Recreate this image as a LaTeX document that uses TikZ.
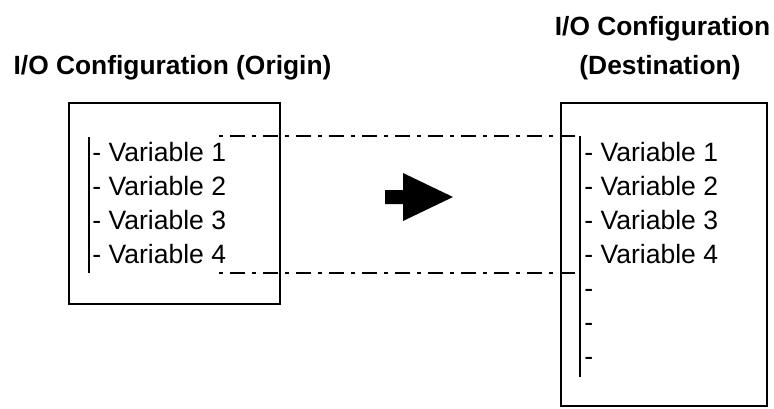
\documentclass[tikz,border=0pt]{standalone}
\usepackage{fontspec}
\setmainfont{Liberation Sans}

\begin{document}
\begin{tikzpicture}[line join=miter,
    frame/.style={line width=1.15pt},
    listbar/.style={line width=1.25pt},
    linkline/.style={line width=1.15pt,dash pattern=on 0.08cm off 0.14cm on 0.30cm off 0.14cm},
    title/.style={inner sep=0pt,anchor=base,font=\fontsize{15pt}{18pt}\selectfont\bfseries},
    item/.style={inner sep=0pt,anchor=base west,font=\fontsize{15.1pt}{17pt}\selectfont}]
  \useasboundingbox (0,0) rectangle (15.48,8.16);
  % titles
  \node[title] (otitle) at (3.45,6.68) {I/O Configuration (Origin)};
  \node[title] (dtitle1) at (13.25,7.46) {I/O Configuration};
  \node[title] (dtitle2) at (13.20,6.68) {(Destination)};
  % boxes
  \draw[frame] (1.38,6.10) rectangle (5.60,2.08);
  \draw[frame] (11.22,6.10) rectangle (15.34,0.04);
  % list bars
  \coordinate (obartop) at (1.78,5.42);
  \coordinate (obarbot) at (1.78,2.70);
  \coordinate (dbartop) at (11.60,5.44);
  \coordinate (dbarbot) at (11.60,0.62);
  \draw[listbar,line width=1.6pt] (obartop) -- (obarbot);
  \draw[listbar] (dbartop) -- (dbarbot);
  % origin list
  \node[item] (ov1) at (1.84,4.94) {- Variable 1};
  \node[item] (ov2) at (1.84,4.26) {- Variable 2};
  \node[item] (ov3) at (1.84,3.58) {- Variable 3};
  \node[item] (ov4) at (1.84,2.90) {- Variable 4};
  % destination list
  \node[item] (dv1) at (11.68,4.94) {- Variable 1};
  \node[item] (dv2) at (11.68,4.26) {- Variable 2};
  \node[item] (dv3) at (11.68,3.58) {- Variable 3};
  \node[item] (dv4) at (11.68,2.90) {- Variable 4};
  \node[item] (dv5) at (11.68,2.22) {-};
  \node[item] (dv6) at (11.68,1.54) {-};
  \node[item] (dv7) at (11.68,0.86) {-};
  % mapping lines
  \coordinate (linktop) at (4.38,5.44);
  \coordinate (linkbot) at (4.38,2.70);
  \coordinate (dlinkbot) at (11.60,2.70);
  \draw[linkline] (linktop) -- (dbartop);
  \draw[linkline] (linkbot) -- (dlinkbot);
  % arrow
  \fill (7.70,4.36) -- (8.06,4.36) -- (8.06,4.70) -- (9.06,4.22) -- (8.06,3.74)
    -- (8.06,4.08) -- (7.70,4.08) -- cycle;
\end{tikzpicture}
\end{document}
